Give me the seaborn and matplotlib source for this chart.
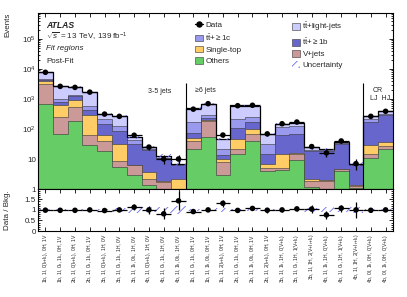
import numpy as np
import pandas as pd
import matplotlib
matplotlib.use("Agg")
import matplotlib.pyplot as plt
import seaborn as sns
from matplotlib.patches import Patch
from matplotlib.lines import Line2D
from matplotlib.ticker import FixedLocator, FixedFormatter, LogLocator, MultipleLocator, NullFormatter

# ---------------- data ----------------
region_labels = [
    r"1b, 1l, 0(l$_\mathrm{t}$+l$_\mathrm{L}$), 0H, 1V",
    r"1b, 1l, 0l$_\mathrm{t}$, 1l$_\mathrm{L}$, 0H, 1V",
    r"2b, 1l, 0(l$_\mathrm{t}$+l$_\mathrm{L}$), 0H, 1V",
    r"2b, 1l, 0l$_\mathrm{t}$, 1l$_\mathrm{L}$, 0H, 1V",
    r"3b, 1l, 0(l$_\mathrm{t}$+l$_\mathrm{L}$), 1H, 0V",
    r"3b, 1l, 0l$_\mathrm{t}$, 1l$_\mathrm{L}$, 1H, 0V",
    r"3b, 1l, 1l$_\mathrm{t}$, 0l$_\mathrm{L}$, 1H, 0V",
    r"4b, 1l, 0(l$_\mathrm{t}$+l$_\mathrm{L}$), 1H, 0V",
    r"4b, 1l, 0l$_\mathrm{t}$, 1l$_\mathrm{L}$, 1H, 0V",
    r"4b, 1l, 1l$_\mathrm{t}$, 0l$_\mathrm{L}$, 1H, 0V",
    r"1b, 1l, 0l$_\mathrm{t}$, 1l$_\mathrm{L}$, 0H, 1V",
    r"1b, 1l, 1l$_\mathrm{t}$, 0l$_\mathrm{L}$, 0H, 1V",
    r"1b, 1l, 2(l$_\mathrm{t}$+l$_\mathrm{L}$), 0H, 1V",
    r"2b, 1l, 0l$_\mathrm{t}$, 1l$_\mathrm{L}$, 0H, 1V",
    r"2b, 1l, 1l$_\mathrm{t}$, 0l$_\mathrm{L}$, 0H, 1V",
    r"2b, 1l, 2(l$_\mathrm{t}$+l$_\mathrm{L}$), 0H, 1V",
    r"3b, 1l, 1l$_\mathrm{t}$, 1H, 0(V+l$_\mathrm{L}$)",
    r"3b, 1l, 0l$_\mathrm{t}$, 1H, 1(V+l$_\mathrm{L}$)",
    r"3b, 1l, 1H, 2(V+l$_\mathrm{t}$+l$_\mathrm{L}$)",
    r"4b, 1l, 1l$_\mathrm{t}$, 1H, 0(V+l$_\mathrm{L}$)",
    r"4b, 1l, 0l$_\mathrm{t}$, 1H, 1(V+l$_\mathrm{L}$)",
    r"4b, 1l, 1H, 2(V+l$_\mathrm{t}$+l$_\mathrm{L}$)",
    r"4b, 0l, 1l$_\mathrm{t}$, 0H, 0(V+l$_\mathrm{L}$)",
    r"4b, 0l, 1l$_\mathrm{t}$, 0H, 0(V+l$_\mathrm{L}$)",
]

others     = [700, 70, 180, 30, 18, 5.4, 2.9, 1.4, 0.6, 0.3, 21, 54, 3.0, 15, 39, 3.9, 4.2, 9, 1.2, 0.6, 4.1, 1.1, 11, 21]
vjets      = [2550, 180, 360, 35, 21, 3, 3.3, 0.8, 1.1, 0.2, 19, 126, 4.9, 6, 31, 1.1, 0.8, 6, 0.6, 1.3, 0.4, 0.2, 4, 6]
single_top = [650, 400, 370, 235, 26, 23.6, 0.1, 1.5, 0.2, 1.7, 10, 20, 1.9, 24, 27, 2, 10, 0.3, 0.4, 0.1, 0.1, 0.05, 14, 10]
tt_b       = [300, 150, 340, 140, 85, 54, 25.7, 15.8, 8.6, 4.0, 25, 40, 3.4, 62, 73, 8, 50, 54.7, 15.8, 16.5, 26.4, 4.85, 141, 263]
tt_c       = [600, 170, 130, 130, 70, 40, 10, 2.5, 0.7, 0.4, 95, 60, 7.8, 113, 80, 17, 52, 53, 2, 1, 3, 0.4, 40, 25]
tt_light   = [3100, 1730, 1120, 1130, 105, 139, 13, 3, 1.1, 0.4, 330, 400, 27, 395, 330, 38, 33, 40, 5, 1.5, 3, 0.4, 60, 65]
data       = [7800, 2650, 2450, 1700, 315, 265, 62, 25, 10, 10, 460, 700, 63, 600, 620, 69, 150, 171, 26, 16, 40, 7, 265, 390]
rel_unc    = [0.03, 0.03, 0.05, 0.03, 0.04, 0.08, 0.15, 0.12, 0.15, 0.2, 0.05, 0.05, 0.08, 0.04, 0.04, 0.05, 0.04, 0.06, 0.1, 0.12, 0.1, 0.15, 0.03, 0.03]

comp_names = ["Others", "V+jets", "Single-top", r"$\mathrm{t\bar{t}}$+$\geq$1b",
              r"$\mathrm{t\bar{t}}$+$\geq$1c", r"$\mathrm{t\bar{t}}$+light-jets"]
comp_colors = ["#66cc66", "#cc9999", "#ffcc66", "#6666cc", "#9999ee", "#ccccff"]
hatch_color = "#6a6aee"

# ---------------- style ----------------
sns.set_style("ticks")
plt.rcParams.update({
    "font.family": ["Liberation Sans", "DejaVu Sans"],
    "mathtext.fontset": "custom",
    "mathtext.rm": "Liberation Sans",
    "mathtext.it": "Liberation Sans:italic",
    "mathtext.bf": "Liberation Sans:bold",
    "mathtext.sf": "Liberation Sans",
    "hatch.linewidth": 0.6,
    "axes.linewidth": 0.8,
    "axes.edgecolor": "black",
})

W, H = 407, 297
fig = plt.figure(figsize=(W / 100, H / 100), dpi=100)

def fx(x):
    return x / W

def fy(y):
    return 1 - y / H

left, right = 38, 393
ax = fig.add_axes([fx(left), fy(189), fx(right - left), (189 - 13) / H])
rax = fig.add_axes([fx(left), fy(231), fx(right - left), (231 - 189) / H], sharex=ax)

n = len(data)
centers = np.arange(n)
edges = np.arange(n + 1) - 0.5
comps = np.vstack([others, vjets, single_top, tt_b, tt_c, tt_light])
cum = np.cumsum(comps, axis=0)
total = cum[-1]
data = np.asarray(data, dtype=float)
rel_unc = np.asarray(rel_unc)

ax.set_yscale("log")

# stacked background, drawn as cumulative layers (top first)
for k in reversed(range(len(comp_names))):
    df_k = pd.DataFrame({"bin": centers.astype(float), "w": cum[k]})
    sns.histplot(data=df_k, x="bin", weights="w", binwidth=1, binrange=(-0.5, n - 0.5),
                 element="step", fill=True,
                 color=comp_colors[k], alpha=1.0, linewidth=0.4, edgecolor="#333333",
                 ax=ax, zorder=2)
# total outline
ext_total = np.append(total, total[-1])
ax.step(edges, ext_total, where="post", color="black", lw=0.9, zorder=3)

# uncertainty band
lo = np.append(total * (1 - rel_unc), total[-1] * (1 - rel_unc[-1]))
hi = np.append(total * (1 + rel_unc), total[-1] * (1 + rel_unc[-1]))
ax.fill_between(edges, lo, hi, step="post", facecolor="none", edgecolor=hatch_color,
                hatch="////", linewidth=0, zorder=4)

# data
derr = np.sqrt(data)
ax.errorbar(centers, data, yerr=derr, xerr=0.5, fmt="none", ecolor="black",
            elinewidth=0.9, capsize=0, zorder=5)
sns.scatterplot(x=centers, y=data, color="black", s=16, edgecolor="none", ax=ax, zorder=6,
                legend=False)

# region separators
ax.vlines([9.5, 21.5], 1, 3300, colors="black", lw=0.8, zorder=6)

ax.set_xlim(-0.5, n - 0.5)
ax.set_ylim(1, 7.4e5)
ax.set_xlabel("")
ax.set_ylabel("")
ax.yaxis.set_major_locator(FixedLocator([1, 10, 1e2, 1e3, 1e4, 1e5]))
ax.yaxis.set_major_formatter(FixedFormatter(["1", "10", "$10^2$", "$10^3$", "$10^4$", "$10^5$"]))
ax.yaxis.set_minor_locator(LogLocator(base=10, subs=np.arange(2, 10), numticks=20))
ax.yaxis.set_minor_formatter(NullFormatter())
ax.set_xticks(centers)
ax.tick_params(axis="x", labelbottom=False)

# ratio panel
ratio = data / total
rerr = derr / total
r_lo = np.append(1 - rel_unc, 1 - rel_unc[-1])
r_hi = np.append(1 + rel_unc, 1 + rel_unc[-1])
rax.fill_between(edges, r_lo, r_hi, step="post", facecolor="none", edgecolor=hatch_color,
                 hatch="////", linewidth=0, zorder=2)
rax.errorbar(centers, ratio, yerr=rerr, xerr=0.5, fmt="none", ecolor="black",
             elinewidth=0.9, capsize=0, zorder=4)
sns.scatterplot(x=centers, y=ratio, color="black", s=16, edgecolor="none", ax=rax, zorder=5,
                legend=False)
rax.set_ylim(0, 1.99)
rax.yaxis.set_major_locator(FixedLocator([0, 0.5, 1, 1.5]))
rax.yaxis.set_major_formatter(FixedFormatter(["0", "0.5", "1", "1.5"]))
rax.yaxis.set_minor_locator(MultipleLocator(0.1))
rax.set_xticks(centers)
rax.set_xticklabels(region_labels, rotation=90, fontsize=3.6, va="top", ha="center")
rax.set_xlabel("")
rax.set_ylabel("")

for a in (ax, rax):
    a.tick_params(axis="both", which="both", direction="in", top=True, right=True,
                  width=0.7, labelsize=5.8, pad=1.5)
    a.tick_params(which="major", length=3.2)
    a.tick_params(which="minor", length=1.6)
    a.tick_params(axis="x", which="minor", length=0)
rax.tick_params(axis="x", labelsize=3.6, pad=2)

# axis titles
fig.text(fx(8), fy(13), "Events", rotation=90, ha="center", va="top", fontsize=5.8)
fig.text(fx(8), fy(210), "Data / Bkg.", rotation=90, ha="center", va="center", fontsize=5.8)

# ATLAS labels
fig.text(fx(46), fy(25), "ATLAS", fontsize=6.2, fontweight="bold", fontstyle="italic", va="center")
fig.text(fx(46), fy(37), r"$\sqrt{s}$ = 13 TeV, 139 fb$^{-1}$", fontsize=5.8, va="center")
fig.text(fx(46), fy(49), "Fit regions", fontsize=5.8, fontstyle="italic", va="center")
fig.text(fx(46), fy(61), "Post-Fit", fontsize=5.8, va="center")

fig.text(fx(160), fy(92), "3-5 jets", fontsize=5.0, ha="center", va="center")
fig.text(fx(195), fy(90), "\u22656 jets", fontsize=5.0, ha="left", va="center")
fig.text(fx(378), fy(90), "CR", fontsize=5.0, ha="center", va="center")
fig.text(fx(380), fy(99), "LJ  HJ", fontsize=5.0, ha="center", va="center")

# legends
def box(c):
    return Patch(facecolor=c, edgecolor="#333333", linewidth=0.4)

data_handle = Line2D([0], [0], color="black", lw=0.9, marker="o", ms=3.6)
unc_handle = Patch(facecolor="none", edgecolor=hatch_color, hatch="////", linewidth=0)
h1 = [data_handle, box(comp_colors[4]), box(comp_colors[2]), box(comp_colors[0])]
l1 = ["Data", comp_names[4], comp_names[2], comp_names[0]]
h2 = [box(comp_colors[5]), box(comp_colors[3]), box(comp_colors[1]), unc_handle]
l2 = [comp_names[5], comp_names[3], comp_names[1], "Uncertainty"]

common = dict(loc="upper left", bbox_transform=fig.transFigure, frameon=False, fontsize=5.8,
              handlelength=0.95, handleheight=0.9, handletextpad=0.35, labelspacing=0.38,
              borderpad=0, borderaxespad=0)
leg1 = ax.legend(h1, l1, bbox_to_anchor=(fx(195), fy(21)), **common)
ax.add_artist(leg1)
leg2 = ax.legend(h2, l2, bbox_to_anchor=(fx(292), fy(21)), **common)

fig.savefig("out.png", dpi=100)
